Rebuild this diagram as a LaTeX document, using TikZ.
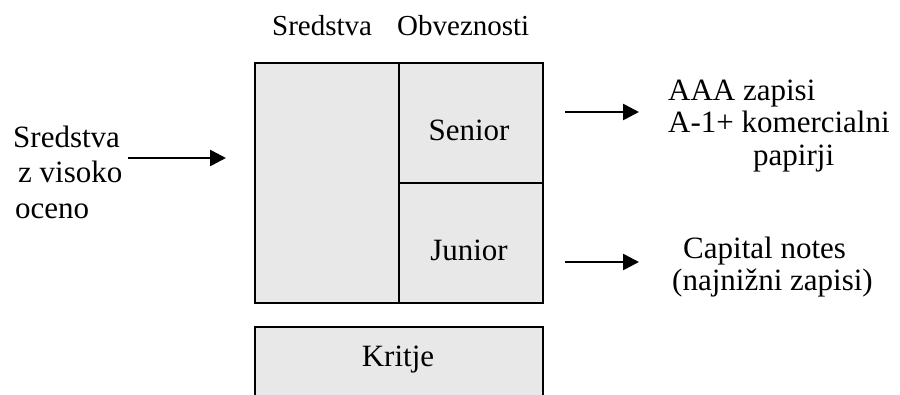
\documentclass[tikz,border=0pt]{standalone}
\usepackage{fontspec}
\setmainfont{Liberation Serif}
\usetikzlibrary{arrows.meta}
\definecolor{boxgray}{RGB}{232,232,232}
\begin{document}
\begin{tikzpicture}[x=1pt,y=-1pt,
  every node/.style={font=\fontsize{31}{36}\selectfont, inner sep=0pt},
  blk/.style={draw=black, line width=1.8pt, fill=boxgray, rectangle, anchor=north west},
  txt/.style={anchor=base west},
  head/.style={anchor=base west, font=\fontsize{29}{34}\selectfont},
  arr/.style={line width=2.6pt, -{Triangle[length=16pt,width=16pt]}}]
\useasboundingbox (0,0) rectangle (900,394);
\clip (0,0) rectangle (900,394);
% boxes
\node[blk, minimum width=144pt, minimum height=240pt] (assets) at (254,62) {};
\node[blk, minimum width=144pt, minimum height=120pt] (senior) at (398,62) {};
\node[blk, minimum width=144pt, minimum height=120pt] (junior) at (398,182) {};
\node[blk, minimum width=288pt, minimum height=100pt] (kritje) at (254,326) {};
% box labels
\node[anchor=base] (seniort) at (469,140) {Senior};
\node[anchor=base] (juniort) at (469,260) {Junior};
\node[anchor=base] (kritjet) at (398,366) {Kritje};
% headers
\node[head] (hsred) at (272,35) {Sredstva};
\node[head] (hobv) at (397,35) {Obveznosti};
% left text
\node[txt] (l1) at (13,147) {Sredstva};
\node[txt] (l2) at (18,182) {z visoko};
\node[txt] (l3) at (15,218) {oceno};
% right texts
\node[txt] (r1) at (668,100) {AAA zapisi};
\node[txt] (r2) at (668,132.5) {A-1+ komercialni};
\node[txt] (r3) at (753,165) {papirji};
\node[txt] (r4) at (683,258) {Capital notes};
\node[txt] (r5) at (672,290) {(najnižni zapisi)};
% arrows
\coordinate (ina) at (128,158);
\coordinate (inb) at (226,158);
\coordinate (sa) at (565,112);
\coordinate (sb) at (639,112);
\coordinate (ja) at (565,262);
\coordinate (jb) at (639,262);
\draw[arr] (ina) -- (inb);
\draw[arr] (sa) -- (sb);
\draw[arr] (ja) -- (jb);
\end{tikzpicture}
\end{document}
